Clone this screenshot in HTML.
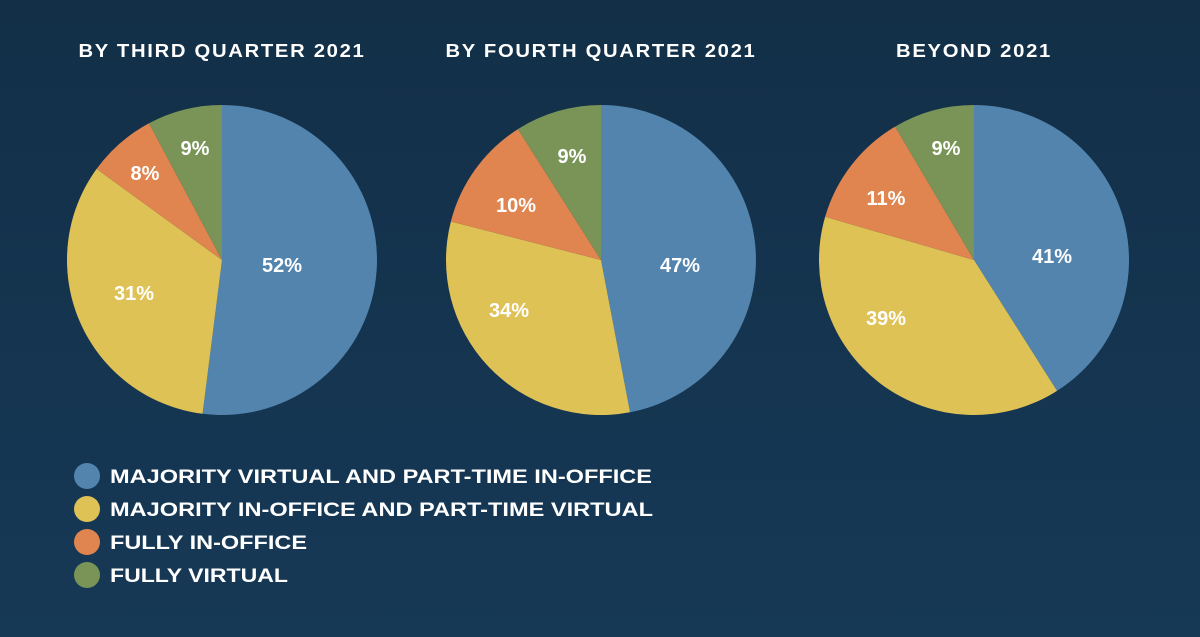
<!DOCTYPE html>
<html><head><meta charset="utf-8"><style>
html,body{margin:0;padding:0;background:#14314b;}
svg{display:block}
text{font-family:"Liberation Sans",Arial,sans-serif;font-weight:bold;fill:#fff}
</style></head><body>
<svg id="s" width="1200" height="637" viewBox="0 0 1200 637" xmlns="http://www.w3.org/2000/svg">
<defs><linearGradient id="bg" x1="0" y1="0" x2="0" y2="1"><stop offset="0" stop-color="#132f48"/><stop offset="1" stop-color="#163956"/></linearGradient></defs>
<rect width="1200" height="637" fill="url(#bg)"/>
<g id="pies"></g>
<g font-size="18" letter-spacing="1.5">
<text x="222" y="57" text-anchor="middle" textLength="287" lengthAdjust="spacingAndGlyphs">BY THIRD QUARTER 2021</text>
<text x="601" y="57" text-anchor="middle" textLength="311" lengthAdjust="spacingAndGlyphs">BY FOURTH QUARTER 2021</text>
<text x="974" y="57" text-anchor="middle" textLength="156" lengthAdjust="spacingAndGlyphs">BEYOND 2021</text>
</g>
<g font-size="20" text-anchor="middle">
<text x="282" y="272">52%</text><text x="134" y="300">31%</text><text x="145" y="180">8%</text><text x="195" y="155">9%</text>
<text x="680" y="272">47%</text><text x="509" y="317">34%</text><text x="516" y="212">10%</text><text x="572" y="163">9%</text>
<text x="1052" y="263">41%</text><text x="886" y="325">39%</text><text x="886" y="205">11%</text><text x="946" y="155">9%</text>
</g>
<circle cx="87" cy="476" r="13" fill="#5284ad"/>
<circle cx="87" cy="509" r="13" fill="#dfc255"/>
<circle cx="87" cy="542" r="13" fill="#e0854f"/>
<circle cx="87" cy="575" r="13" fill="#7a9458"/>
<g font-size="19">
<text x="110" y="483" textLength="542" lengthAdjust="spacingAndGlyphs">MAJORITY VIRTUAL AND PART-TIME IN-OFFICE</text>
<text x="110" y="516" textLength="543" lengthAdjust="spacingAndGlyphs">MAJORITY IN-OFFICE AND PART-TIME VIRTUAL</text>
<text x="110" y="549" textLength="197" lengthAdjust="spacingAndGlyphs">FULLY IN-OFFICE</text>
<text x="110" y="582" textLength="178" lengthAdjust="spacingAndGlyphs">FULLY VIRTUAL</text>
</g>
</svg>
<script>
var cols=["#5284ad","#dfc255","#e0854f","#7a9458"];
var pies=[[222,260,[52,33,7.2,7.8]],[601,260,[47,32,12,9]],[974,260,[41,38.5,12,8.5]]];
var g=document.getElementById("pies"),h="",r=155;
pies.forEach(function(p){var a=0;p[2].forEach(function(v,i){var a0=a/100*2*Math.PI;a+=v;var a1=a/100*2*Math.PI;
var x0=p[0]+r*Math.sin(a0),y0=p[1]-r*Math.cos(a0),x1=p[0]+r*Math.sin(a1),y1=p[1]-r*Math.cos(a1);
h+='<path fill="'+cols[i]+'" d="M'+p[0]+' '+p[1]+' L'+x0.toFixed(2)+' '+y0.toFixed(2)+' A'+r+' '+r+' 0 '+(v>50?1:0)+' 1 '+x1.toFixed(2)+' '+y1.toFixed(2)+' Z"/>';});});
g.innerHTML=h;
</script>
</body></html>
